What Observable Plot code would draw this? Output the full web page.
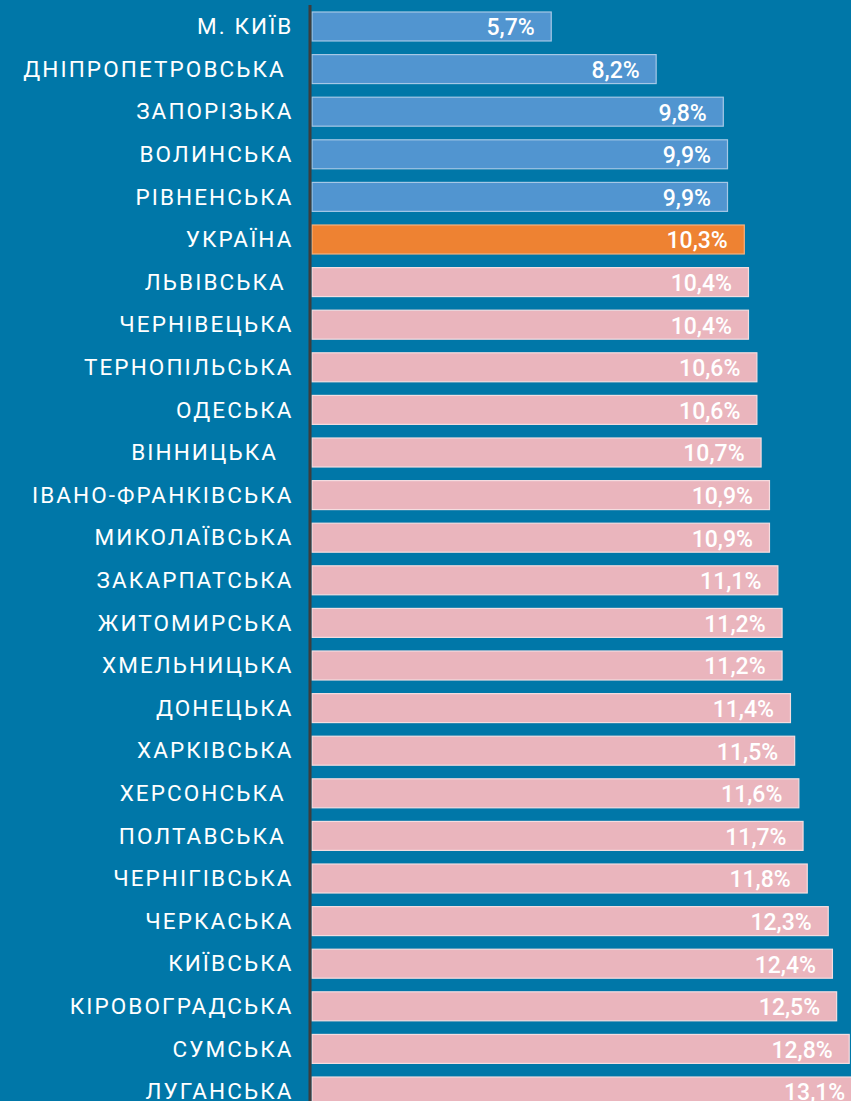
<!DOCTYPE html>
<html><head><meta charset="utf-8">
<script src="https://cdn.jsdelivr.net/npm/d3@7"></script>
<script src="https://cdn.jsdelivr.net/npm/@observablehq/plot@0.6"></script>
<style>
html,body{margin:0;padding:0;background:#0077a8;overflow:hidden;}
#chart svg{display:block;}
</style></head>
<body><div id="chart"></div>
<script>
const regions = ["М. КИЇВ","ДНІПРОПЕТРОВСЬКА\u00a0","ЗАПОРІЗЬКА","ВОЛИНСЬКА","РІВНЕНСЬКА","УКРАЇНА","ЛЬВІВСЬКА\u00a0","ЧЕРНІВЕЦЬКА","ТЕРНОПІЛЬСЬКА","ОДЕСЬКА","ВІННИЦЬКА\u00a0\u00a0","ІВАНО-ФРАНКІВСЬКА","МИКОЛАЇВСЬКА","ЗАКАРПАТСЬКА","ЖИТОМИРСЬКА","ХМЕЛЬНИЦЬКА","ДОНЕЦЬКА","ХАРКІВСЬКА","ХЕРСОНСЬКА\u00a0","ПОЛТАВСЬКА\u00a0","ЧЕРНІГІВСЬКА","ЧЕРКАСЬКА","КИЇВСЬКА","КІРОВОГРАДСЬКА","СУМСЬКА","ЛУГАНСЬКА"];
const values = [5.7,8.2,9.8,9.9,9.9,10.3,10.4,10.4,10.6,10.6,10.7,10.9,10.9,11.1,11.2,11.2,11.4,11.5,11.6,11.7,11.8,12.3,12.4,12.5,12.8,13.1];
const groups = ["below","below","below","below","below","ukraine","above","above","above","above","above","above","above","above","above","above","above","above","above","above","above","above","above","above","above","above"];
const groupNames = ["below","ukraine","above"];
const groupFill = ["#5195d0","#ee8232","#eab5bd"];
const groupStroke = ["#a6c8e6","#f6b27e","#f4dde0"];

const data = regions.map((r,i)=>({region:r, value:values[i], group:groups[i], label: String(values[i]).replace(".",",")+"%"}));
const fillOf = g => groupFill[groupNames.indexOf(g)];
const strokeOf = g => groupStroke[groupNames.indexOf(g)];

const chart = Plot.plot({
  width: 851, height: 1101,
  marginLeft: 311, marginRight: 0, marginTop: 5, marginBottom: 0,
  style: {background: "#0077a8", fontFamily: "Roboto, sans-serif", overflow: "hidden"},
  x: {domain: [0, 13], range: [312, 312 + 13*41.97], axis: null},
  y: {domain: regions, range: [12, 1106], paddingInner: 0.32, paddingOuter: 0, align: 0, round: false, label: null},
  marks: [
    Plot.barX(data, {x: "value", y: "region", fill: d => fillOf(d.group), stroke: d => strokeOf(d.group), strokeWidth: 1.2}),
    Plot.text(data, {x: "value", y: "region", text: "label", textAnchor: "end", dx: -17, dy: 1, fill: "white", fontSize: 23, fontWeight: 500}),
    Plot.axisY({tickSize: 0, tickPadding: 18, fontSize: 22.5, color: "white", label: null}),
    Plot.ruleX([0], {stroke: "#3d3d3d", strokeWidth: 3, dx: -2.5})
  ]
});
chart.querySelectorAll('[aria-label="y-axis tick label"] text').forEach(t => {t.setAttribute("fill","white"); t.style.letterSpacing = "2.1px";});
document.getElementById("chart").appendChild(chart);
</script></body></html>
